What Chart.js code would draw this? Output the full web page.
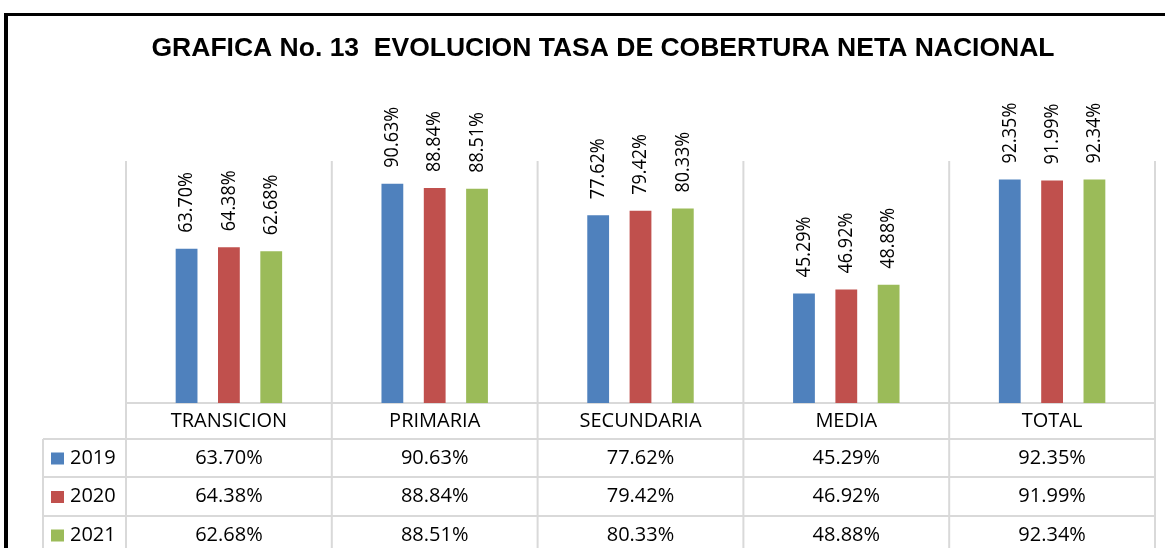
<!DOCTYPE html>
<html>
<head>
<meta charset="utf-8">
<script src="https://cdn.jsdelivr.net/npm/chart.js@4.4.1/dist/chart.umd.min.js"></script>
<style>
    html, body { margin: 0; padding: 0; background: #fff; }
    #chart { display: block; }
</style>
</head>
<body>
<canvas id="chart" width="1165" height="548"></canvas>
<script>
// Chart data
const categories = ['TRANSICION', 'PRIMARIA', 'SECUNDARIA', 'MEDIA', 'TOTAL'];
const years = ['2019', '2020', '2021'];
const values2019 = [63.70, 90.63, 77.62, 45.29, 92.35];
const values2020 = [64.38, 88.84, 79.42, 46.92, 91.99];
const values2021 = [62.68, 88.51, 80.33, 48.88, 92.34];
const seriesColors = ['#4F81BD', '#C0504D', '#9BBB59'];
const titleText = 'GRAFICA No. 13  EVOLUCION TASA DE COBERTURA NETA NACIONAL';

const allValues = [values2019, values2020, values2021];
const bodyFont = '"Open Sans", "Noto Sans", sans-serif';

function fmt(v) {
    return v.toFixed(2) + '%';
}

// Frame, title, grid and the data table under the bars
const tablePlugin = {
    id: 'tablePlugin',
    beforeDraw(chart) {
        const ctx = chart.ctx;
        const area = chart.chartArea;
        const W = chart.width, H = chart.height;
        const colW = (area.right - area.left) / categories.length;
        const legendLeft = 43;
        const rowLines = [area.bottom + 36, area.bottom + 74, area.bottom + 113];

        ctx.save();
        ctx.fillStyle = '#fff';
        ctx.fillRect(0, 0, W, H);

        // black frame
        ctx.fillStyle = '#000';
        ctx.fillRect(4, 13, W - 4, 3);
        ctx.fillRect(4, 13, 4, H - 13);

        // title
        ctx.font = 'bold 26.5px "Liberation Sans", Arial, sans-serif';
        ctx.textAlign = 'center';
        ctx.textBaseline = 'middle';
        ctx.fillStyle = '#000';
        ctx.fillText(titleText, 603, 49);

        // grid lines
        ctx.strokeStyle = '#D9D9D9';
        ctx.lineWidth = 2;
        ctx.beginPath();
        for (let i = 0; i <= categories.length; i++) {
            const x = area.left + i * colW;
            ctx.moveTo(x, area.top);
            ctx.lineTo(x, H);
        }
        ctx.moveTo(legendLeft, rowLines[0]);
        ctx.lineTo(legendLeft, H);
        ctx.moveTo(area.left, area.bottom);
        ctx.lineTo(area.right, area.bottom);
        rowLines.forEach(y => {
            ctx.moveTo(legendLeft, y);
            ctx.lineTo(area.right, y);
        });
        ctx.stroke();
        ctx.restore();
    },
    afterDatasetsDraw(chart) {
        const ctx = chart.ctx;
        const area = chart.chartArea;
        const xs = chart.scales.x;
        const rowCenters = [area.bottom + 55, area.bottom + 93.5, area.bottom + 132];

        ctx.save();
        ctx.fillStyle = '#000';

        // rotated value labels above bars
        ctx.font = '18px ' + bodyFont;
        chart.data.datasets.forEach((ds, di) => {
            const meta = chart.getDatasetMeta(di);
            meta.data.forEach((bar, i) => {
                ctx.save();
                ctx.translate(bar.x, bar.y - 16);
                ctx.rotate(-Math.PI / 2);
                ctx.scale(1, 1.12);
                ctx.textAlign = 'left';
                ctx.textBaseline = 'middle';
                ctx.fillText(fmt(ds.data[i]), 0, 0);
                ctx.restore();
            });
        });

        // category row
        ctx.font = '20px ' + bodyFont;
        ctx.textAlign = 'center';
        ctx.textBaseline = 'middle';
        categories.forEach((c, i) => {
            ctx.fillText(c, xs.getPixelForValue(i), area.bottom + 18);
        });

        // value rows with legend keys
        years.forEach((y, r) => {
            const cy = rowCenters[r];
            ctx.fillStyle = seriesColors[r];
            ctx.fillRect(51, cy - 5.5, 13, 12);
            ctx.fillStyle = '#000';
            ctx.textAlign = 'left';
            ctx.fillText(y, 70, cy);
            ctx.textAlign = 'center';
            allValues[r].forEach((v, i) => {
                ctx.fillText(fmt(v), xs.getPixelForValue(i), cy);
            });
        });
        ctx.restore();
    }
};

new Chart(document.getElementById('chart'), {
    type: 'bar',
    data: {
        labels: categories,
        datasets: years.map((y, i) => ({
            label: y,
            data: allValues[i],
            backgroundColor: seriesColors[i],
            borderWidth: 0,
            categoryPercentage: 0.617,
            barPercentage: 0.515
        }))
    },
    options: {
        responsive: false,
        animation: false,
        devicePixelRatio: 1,
        layout: {
            padding: { left: 126, right: 10, top: 161, bottom: 145 }
        },
        scales: {
            x: { display: false },
            y: { display: false, min: 0, max: 100 }
        },
        plugins: {
            legend: { display: false },
            title: { display: false },
            tooltip: { enabled: false }
        }
    },
    plugins: [tablePlugin]
});
</script>
</body>
</html>
